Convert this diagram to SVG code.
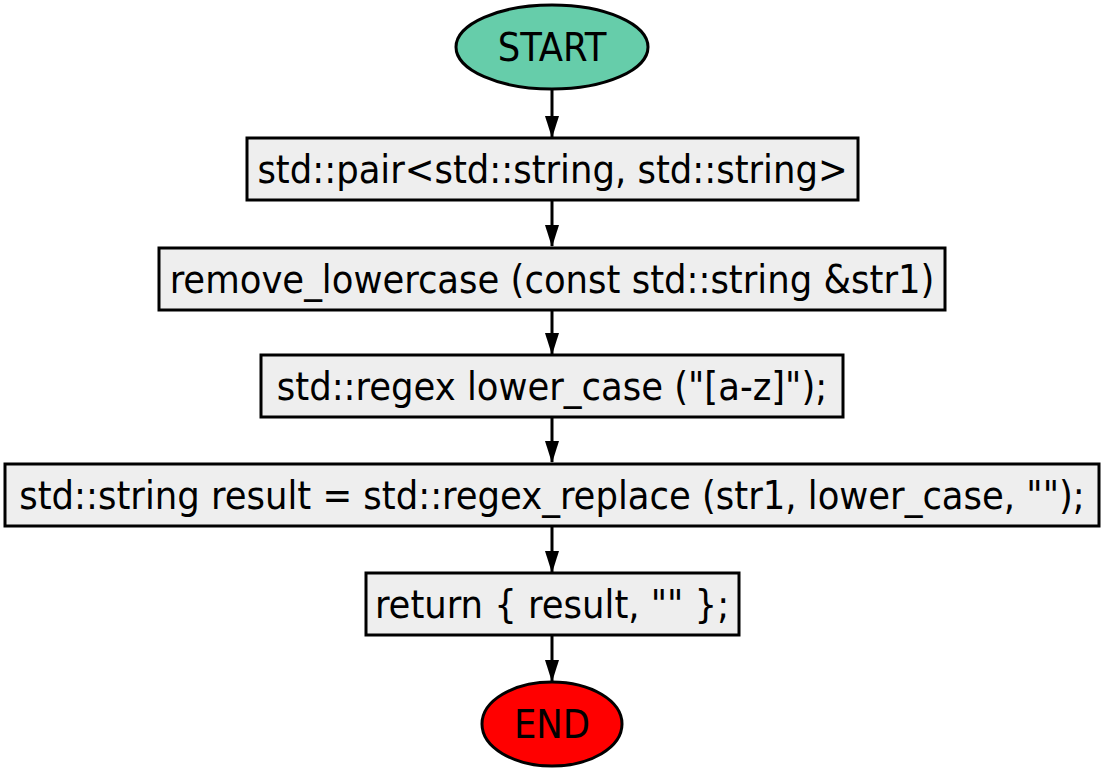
<svg xmlns="http://www.w3.org/2000/svg" width="1105" height="774" viewBox="0 0 1105 774">
<style>
.box{fill:#eeeeee;stroke:#000;stroke-width:3}
.t{font-family:"DejaVu Sans Condensed","DejaVu Sans",sans-serif;font-size:39.4px;fill:#000;text-anchor:middle}
.e{stroke:#000;stroke-width:3;fill:none}
</style>
<defs>
<marker id="ah" viewBox="0 0 22 14" refX="21" refY="7" markerWidth="22" markerHeight="14" markerUnits="userSpaceOnUse" orient="auto">
<path d="M0,0 L22,7 L0,14 z" fill="#000"/>
</marker>
</defs>
<rect width="1105" height="774" fill="#fff"/>
<g id="connectors">
<line class="e" x1="552" y1="89" x2="552" y2="137" marker-end="url(#ah)"/>
<line class="e" x1="552" y1="200" x2="552" y2="246" marker-end="url(#ah)"/>
<line class="e" x1="552" y1="310" x2="552" y2="354" marker-end="url(#ah)"/>
<line class="e" x1="552" y1="417" x2="552" y2="462" marker-end="url(#ah)"/>
<line class="e" x1="552" y1="526" x2="552" y2="572" marker-end="url(#ah)"/>
<line class="e" x1="552" y1="635" x2="552" y2="681" marker-end="url(#ah)"/>
</g>
<g id="start">
<ellipse cx="552" cy="47" rx="96" ry="42" fill="#66cdaa" stroke="#000" stroke-width="3"/>
<text class="t" x="552" y="61">START</text>
</g>
<g id="n1">
<rect class="box" x="247" y="138" width="611" height="62"/>
<text class="t" x="552.5" y="183">std::pair&lt;std::string, std::string&gt;</text>
</g>
<g id="n2">
<rect class="box" x="159" y="248" width="786" height="62"/>
<text class="t" x="552" y="293">remove_lowercase (const std::string &amp;str1)</text>
</g>
<g id="n3">
<rect class="box" x="261" y="355" width="582" height="62"/>
<text class="t" x="552" y="400">std::regex lower_case ("[a-z]");</text>
</g>
<g id="n4">
<rect class="box" x="5" y="464" width="1094" height="62"/>
<text class="t" x="552" y="509">std::string result = std::regex_replace (str1, lower_case, "");</text>
</g>
<g id="n5">
<rect class="box" x="366" y="573" width="373" height="62"/>
<text class="t" x="552" y="618">return { result, "" };</text>
</g>
<g id="end">
<ellipse cx="552" cy="724" rx="70" ry="42" fill="#ff0000" stroke="#000" stroke-width="3"/>
<text class="t" x="552" y="738">END</text>
</g>
</svg>
